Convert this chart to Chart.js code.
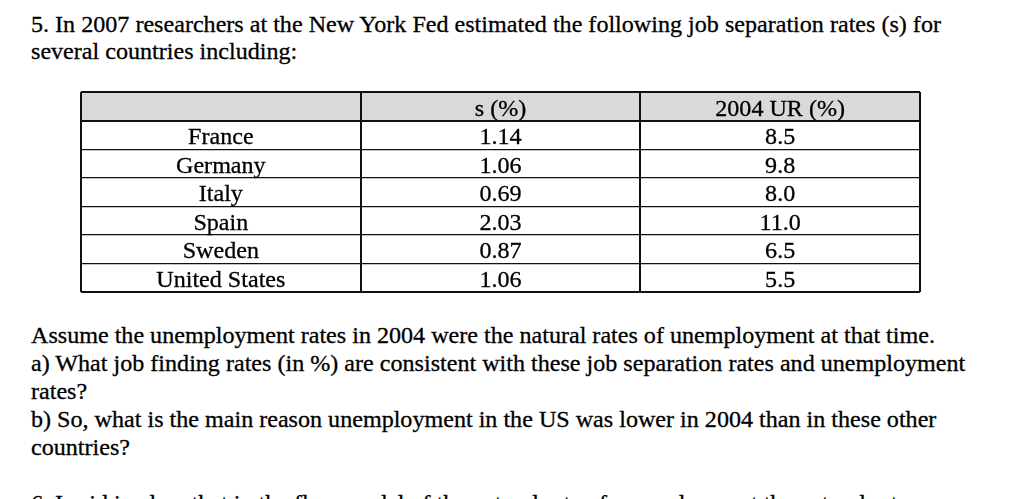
<!DOCTYPE html>
<html>
<head>
<meta charset="utf-8">
<script src="https://cdn.jsdelivr.net/npm/chart.js@4.4.0/dist/chart.umd.min.js"></script>
<style>
html,body{margin:0;padding:0;background:#fff;width:1024px;height:499px;overflow:hidden;}
.t{position:absolute;left:31px;font-family:"Liberation Serif","Times New Roman",serif;font-size:24.1px;line-height:28px;color:#000;white-space:nowrap;-webkit-text-stroke:0.3px #000;}
#wrap{position:absolute;left:78px;top:89px;width:845px;height:206px;}
</style>
</head>
<body>
<div class="t" style="top:10px">5. In 2007 researchers at the New York Fed estimated the following job separation rates (s) for</div>
<div class="t" style="top:37px">several countries including:</div>
<div id="wrap"><canvas id="c" width="845" height="206"></canvas></div>
<div class="t" style="top:321px">Assume the unemployment rates in 2004 were the natural rates of unemployment at that time.</div>
<div class="t" style="top:349px">a) What job finding rates (in %) are consistent with these job separation rates and unemployment</div>
<div class="t" style="top:377px">rates?</div>
<div class="t" style="top:405px">b) So, what is the main reason unemployment in the US was lower in 2004 than in these other</div>
<div class="t" style="top:433px">countries?</div>
<div class="t" style="top:489px">6. I said in class that in the flow model of the natural rate of unemployment the natural rate</div>
<script>
// ---- table data ----
const columnHeaders = ['', 's (%)', '2004 UR (%)'];
const countries = ['France', 'Germany', 'Italy', 'Spain', 'Sweden', 'United States'];
const separationRate = [1.14, 1.06, 0.69, 2.03, 0.87, 1.06];
const unemploymentRate2004 = [8.5, 9.8, 8.0, 11.0, 6.5, 5.5];

const nRows = countries.length + 1;
const nCols = columnHeaders.length;

function cellPoints(col, texts) {
  const pts = [{ x: col + 0.5, y: 0.5, text: columnHeaders[col] }];
  texts.forEach((t, i) => pts.push({ x: col + 0.5, y: i + 1.5, text: t }));
  return pts;
}

const tablePlugin = {
  id: 'tableCells',
  beforeDraw(chart) {
    const { ctx, scales: { x, y } } = chart;
    const x0 = x.getPixelForValue(0), x1 = x.getPixelForValue(nCols);
    const y0 = y.getPixelForValue(0), y1 = y.getPixelForValue(1);
    ctx.save();
    ctx.fillStyle = '#d9d9d9';
    ctx.fillRect(x0, y0, x1 - x0, y1 - y0);
    ctx.restore();
  },
  afterDatasetsDraw(chart) {
    const { ctx, scales: { y } } = chart;
    const rowH = Math.abs(y.getPixelForValue(1) - y.getPixelForValue(0));
    ctx.save();
    ctx.font = '24.1px "Liberation Serif", "Times New Roman", serif';
    ctx.fillStyle = '#000';
    ctx.strokeStyle = '#000';
    ctx.lineWidth = 0.3;
    ctx.textAlign = 'center';
    ctx.textBaseline = 'alphabetic';
    chart.data.datasets.forEach((ds, di) => {
      const meta = chart.getDatasetMeta(di);
      meta.data.forEach((el, i) => {
        const t = ds.data[i].text;
        if (!t) return;
        const ty = el.y + rowH / 2 - 5;
        ctx.fillText(t, el.x, ty);
        ctx.strokeText(t, el.x, ty);
      });
    });
    ctx.restore();
  }
};

new Chart(document.getElementById('c'), {
  type: 'scatter',
  data: {
    datasets: [
      { label: 'Country', data: cellPoints(0, countries) },
      { label: 's (%)', data: cellPoints(1, separationRate.map(v => v.toFixed(2))) },
      { label: '2004 UR (%)', data: cellPoints(2, unemploymentRate2004.map(v => v.toFixed(1))) }
    ]
  },
  options: {
    responsive: false,
    animation: false,
    events: [],
    layout: { padding: 3 },
    elements: { point: { radius: 0, hoverRadius: 0 } },
    plugins: { legend: { display: false }, tooltip: { enabled: false } },
    scales: {
      x: {
        type: 'linear', min: 0, max: nCols,
        ticks: { display: false, stepSize: 1 },
        border: { display: false },
        grid: { color: '#111', drawTicks: false, lineWidth: 2 }
      },
      y: {
        type: 'linear', min: 0, max: nRows, reverse: true,
        ticks: { display: false, stepSize: 1 },
        border: { display: false },
        grid: {
          color: '#111', drawTicks: false,
          lineWidth: c => (c.tick && (c.tick.value === 0 || c.tick.value === 1 || c.tick.value === nRows)) ? 2 : 1.2
        }
      }
    }
  },
  plugins: [tablePlugin]
});
</script>
</body>
</html>
